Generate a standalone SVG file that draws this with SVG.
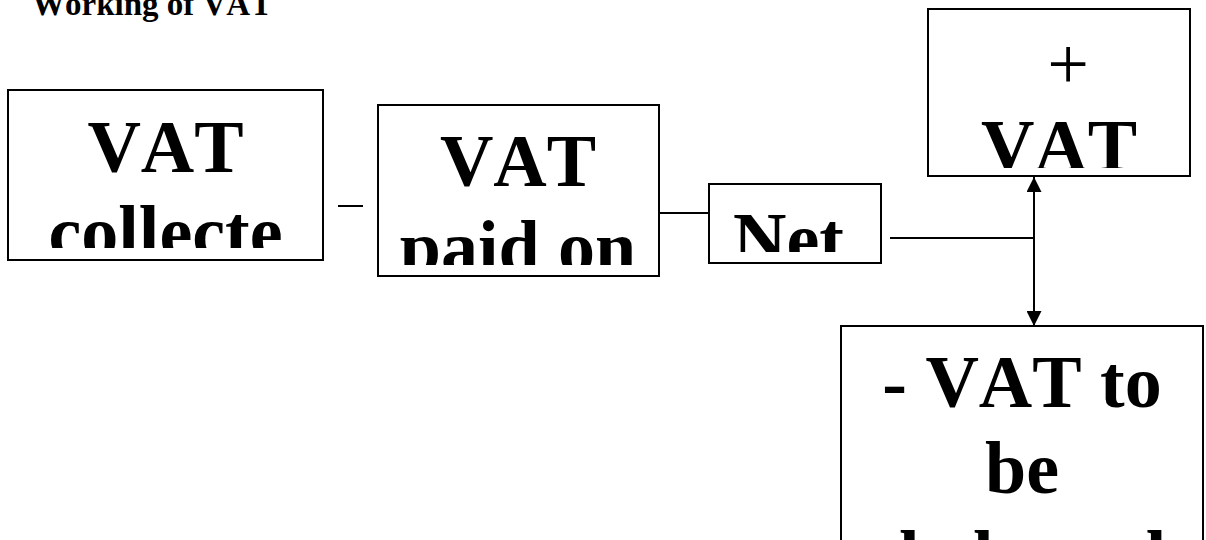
<svg xmlns="http://www.w3.org/2000/svg" width="1206" height="540" viewBox="0 0 1206 540">
<style>
text{font-kerning:none;font-feature-settings:"kern" 0}
.box{fill:#fff;stroke:#000;stroke-width:2}
.big{font-family:"Liberation Serif","Times New Roman",serif;font-weight:bold;font-size:74px;fill:#000;text-anchor:middle}
.plus{font-family:"Liberation Serif","Times New Roman",serif;font-weight:normal;font-size:74px;fill:#000;text-anchor:middle}
.title{font-family:"Liberation Serif","Times New Roman",serif;font-weight:bold;font-size:33px;fill:#000}
.ln{stroke:#000;stroke-width:2;fill:none}
</style>
<defs>
<marker id="ah" viewBox="0 0 10 10" refX="10" refY="5" markerWidth="15" markerHeight="15" markerUnits="userSpaceOnUse" orient="auto-start-reverse">
<path d="M0,0 L10,5 L0,10 z" fill="#000"/>
</marker>
<clipPath id="c1"><rect x="8" y="90" width="315" height="158"/></clipPath>
<clipPath id="c2"><rect x="378" y="105" width="281" height="160"/></clipPath>
<clipPath id="c3"><rect x="709" y="184" width="172" height="68"/></clipPath>
<clipPath id="c4"><rect x="928" y="9" width="262" height="159"/></clipPath>
</defs>
<rect width="1206" height="540" fill="#fff"/>
<text class="title" x="32" y="15">Working of VAT</text>
<g id="connectors">
<line class="ln" x1="338" y1="206" x2="363" y2="206"/>
<line class="ln" x1="659" y1="213" x2="709" y2="213"/>
<line class="ln" x1="890" y1="238" x2="1034" y2="238"/>
<line class="ln" x1="1034" y1="177" x2="1034" y2="326" marker-start="url(#ah)" marker-end="url(#ah)"/>
</g>
<g id="node-collected">
<rect class="box" x="8" y="90" width="315" height="170"/>
<g clip-path="url(#c1)">
<text class="big" x="165.5" y="172">VAT</text>
<text class="big" x="165.5" y="257">collecte</text>
</g>
</g>
<g id="node-paid">
<rect class="box" x="378" y="105" width="281" height="171"/>
<g clip-path="url(#c2)">
<text class="big" x="518" y="186">VAT</text>
<text class="big" x="518" y="272">paid on</text>
</g>
</g>
<g id="node-net">
<rect class="box" x="709" y="184" width="172" height="79"/>
<g clip-path="url(#c3)">
<text class="big" x="733" y="264" style="text-anchor:start">Net</text>
</g>
</g>
<g id="node-plus">
<rect class="box" x="928" y="9" width="262" height="167"/>
<g clip-path="url(#c4)">
<text class="plus" x="1068" y="89">+</text>
<text class="big" x="1059" y="171">VAT</text>
</g>
</g>
<g id="node-minus">
<rect class="box" x="841" y="326" width="362" height="230"/>
<text class="big" x="1022" y="407">- VAT to</text>
<text class="big" x="1022" y="493">be</text>
<text class="big" x="1022" y="582">deducted</text>
</g>
</svg>
